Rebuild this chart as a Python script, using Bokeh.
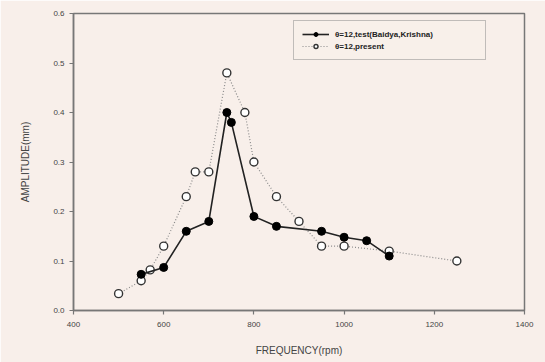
from bokeh.plotting import figure
from bokeh.models import Range1d, FixedTicker, PrintfTickFormatter, Legend, LegendItem
from bokeh.embed import file_html
from bokeh.resources import INLINE

# Data
test_freq = [550, 600, 650, 700, 740, 750, 800, 850, 950, 1000, 1050, 1100]
test_amp = [0.073, 0.087, 0.16, 0.18, 0.40, 0.38, 0.19, 0.17, 0.16, 0.148, 0.141, 0.11]

present_freq = [500, 550, 570, 600, 650, 670, 700, 740, 780, 800, 850, 900, 950, 1000, 1100, 1250]
present_amp = [0.034, 0.06, 0.082, 0.13, 0.23, 0.28, 0.28, 0.48, 0.40, 0.30, 0.23, 0.18, 0.13, 0.13, 0.12, 0.10]

x_ticks = [400, 600, 800, 1000, 1200, 1400]
y_ticks = [0.0, 0.1, 0.2, 0.3, 0.4, 0.5, 0.6]

label_test = "\u03b8=12,test(Baidya,Krishna)"
label_present = "\u03b8=12,present"

BG = "#f8efea"
FONT = "Liberation Sans"

p = figure(width=545, height=362, output_backend="svg", toolbar_location=None,
           x_range=Range1d(400, 1400), y_range=Range1d(0, 0.6),
           min_border_left=73, min_border_right=21, min_border_top=13, min_border_bottom=52)
p.background_fill_color = BG
p.border_fill_color = BG
p.outline_line_color = "#777777"
p.outline_line_width = 1.5
p.xgrid.visible = False
p.ygrid.visible = False

for ax in (p.xaxis[0], p.yaxis[0]):
    ax.axis_line_color = "#777777"
    ax.axis_line_width = 1.5
    ax.major_tick_line_color = "#777777"
    ax.major_tick_line_width = 1.2
    ax.major_tick_out = 4
    ax.major_tick_in = 0
    ax.minor_tick_line_color = None
    ax.major_label_text_font = FONT
    ax.major_label_text_font_size = "8px"
    ax.major_label_text_color = "#444444"
    ax.axis_label_text_font = FONT
    ax.axis_label_text_font_size = "10px"
    ax.axis_label_text_font_style = "normal"
    ax.axis_label_text_color = "#444444"

p.xaxis.ticker = FixedTicker(ticks=x_ticks)
p.xaxis.formatter = PrintfTickFormatter(format="%d")
p.yaxis.ticker = FixedTicker(ticks=y_ticks)
p.yaxis.formatter = PrintfTickFormatter(format="%.1f")
p.xaxis.axis_label = "FREQUENCY(rpm)"
p.yaxis.axis_label = "AMPLITUDE(mm)"
p.xaxis.major_label_standoff = 7
p.xaxis.axis_label_standoff = 15
p.yaxis.major_label_standoff = 5
p.yaxis.axis_label_standoff = 19

# present (open circles, dotted)
l2 = p.line(present_freq, present_amp, line_color="#8a8a8a", line_width=1.2, line_dash="1 2")
s2 = p.scatter(present_freq, present_amp, size=8, marker="circle",
               fill_color="white", line_color="#333333", line_width=1.4)

# test (filled circles, solid)
l1 = p.line(test_freq, test_amp, line_color="#222222", line_width=1.6)
s1 = p.scatter(test_freq, test_amp, size=8, marker="circle",
               fill_color="black", line_color="black")

legend = Legend(items=[LegendItem(label=label_test, renderers=[l1, s1]),
                       LegendItem(label=label_present, renderers=[l2, s2])],
                location=(220, 250))
legend.background_fill_color = BG
legend.border_line_color = "#888888"
legend.border_line_width = 1.2
legend.label_text_font = FONT
legend.label_text_font_size = "8px"
legend.label_text_font_style = "bold"
legend.label_text_color = "#222222"
legend.glyph_width = 27
legend.glyph_height = 10
legend.label_height = 10
legend.label_width = 142
legend.label_standoff = 6
legend.spacing = 2
legend.padding = 8
legend.margin = 0
p.add_layout(legend, "center")

open("out.html", "w").write(file_html(p, INLINE))
